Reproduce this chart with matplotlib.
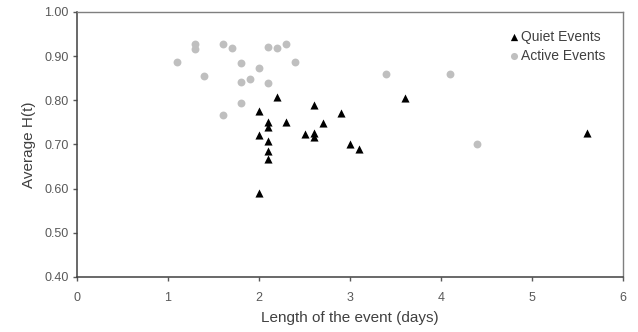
import matplotlib
matplotlib.use("Agg")
import matplotlib.pyplot as plt

plt.rcParams['font.family'] = ['Liberation Sans', 'DejaVu Sans']

# Quiet events (black triangles)
quiet_len = [2.2, 2.0, 2.1, 2.1, 2.3, 2.6, 2.7, 2.9, 2.0, 2.5, 2.6, 2.6,
             2.1, 2.1, 2.1, 3.0, 3.1, 3.6, 5.6, 2.0]
quiet_h = [0.807, 0.776, 0.752, 0.740, 0.750, 0.790, 0.748, 0.772, 0.722, 0.724, 0.727, 0.716,
           0.708, 0.686, 0.667, 0.701, 0.690, 0.805, 0.725, 0.590]

# Active events (grey circles)
active_len = [1.1, 1.3, 1.3, 1.4, 1.6, 1.7, 1.8, 2.0, 1.9, 1.8, 2.1, 2.1,
              2.2, 2.3, 2.4, 1.8, 1.6, 3.4, 4.1, 4.4]
active_h = [0.886, 0.927, 0.916, 0.855, 0.927, 0.919, 0.885, 0.873, 0.849, 0.842, 0.839, 0.921,
            0.919, 0.927, 0.886, 0.794, 0.767, 0.860, 0.860, 0.702]

xticks = [0, 1, 2, 3, 4, 5, 6]
yticks = [0.40, 0.50, 0.60, 0.70, 0.80, 0.90, 1.00]

fig = plt.figure(figsize=(6.38, 3.32), dpi=100)
ax = fig.add_axes([0.1207, 0.1657, 0.8558, 0.7982])

ax.scatter(quiet_len, quiet_h, marker='^', s=34, color='black', linewidths=0,
           label='Quiet Events', zorder=3)
ax.scatter(active_len, active_h, marker='o', s=32, color='#bfbfbf', linewidths=0,
           label='Active Events', zorder=2)

ax.set_xlim(0, 6)
ax.set_ylim(0.4, 1.0)
ax.set_xticks(xticks)
ax.set_yticks(yticks)
ax.set_xticklabels([str(t) for t in xticks])
ax.set_yticklabels([f"{t:.2f}" for t in yticks])
ax.tick_params(direction='out', length=3, width=1, labelsize=9, colors='#595959')
ax.tick_params(axis='x', pad=8)
ax.tick_params(axis='y', pad=3)

for s in ['left', 'bottom']:
    ax.spines[s].set_color('#404040')
    ax.spines[s].set_linewidth(1.1)
for s in ['top', 'right']:
    ax.spines[s].set_color('#7f7f7f')
    ax.spines[s].set_linewidth(1.0)

ax.set_xlabel('Length of the event (days)', fontsize=11, color='#404040', labelpad=5)
ax.set_ylabel('Average H(t)', fontsize=11, color='#404040', labelpad=6)

leg = ax.legend(loc='upper right', frameon=False, fontsize=10, handletextpad=0.0,
                labelspacing=0.35, borderaxespad=0.9, handlelength=1.0, markerscale=0.9)
for t in leg.get_texts():
    t.set_color('#404040')

fig.savefig('out.png', dpi=100)
